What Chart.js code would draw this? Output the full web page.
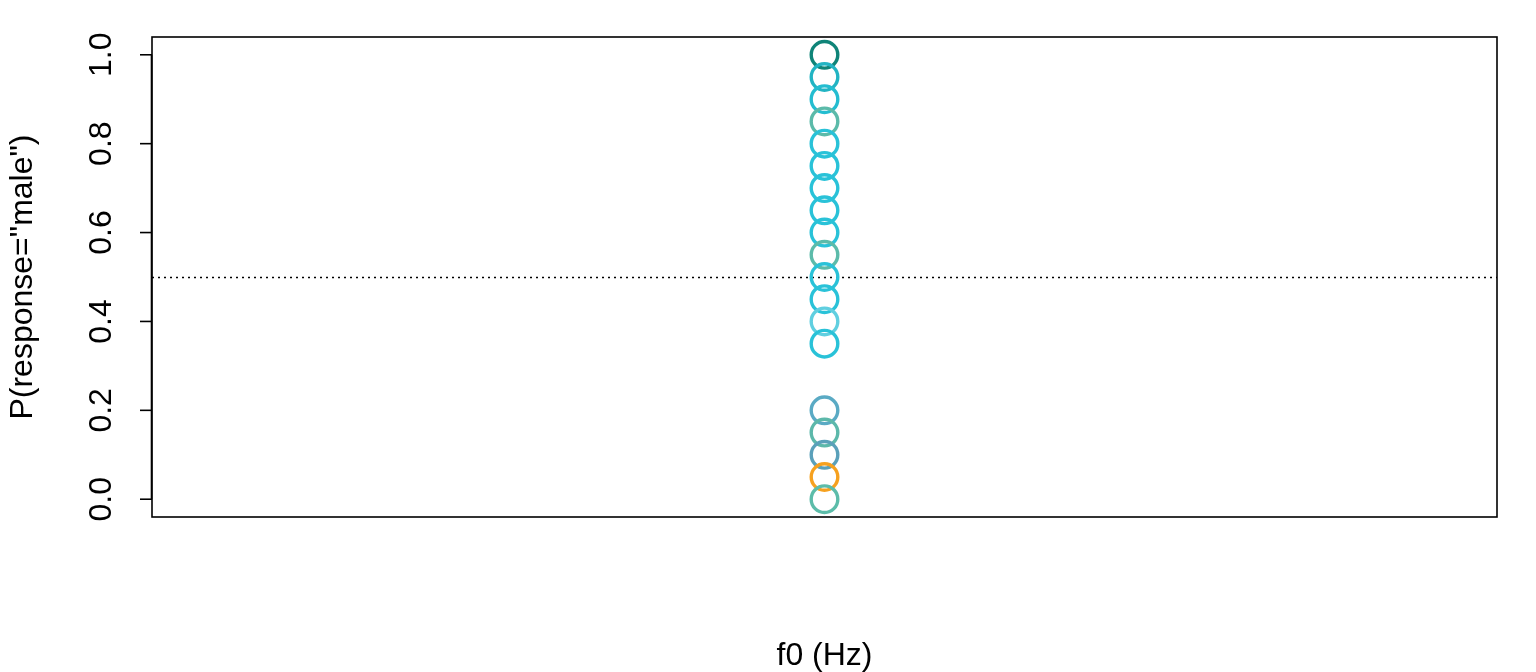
<!DOCTYPE html>
<html>
<head>
<meta charset="utf-8">
<script src="https://cdn.jsdelivr.net/npm/chart.js@4/dist/chart.umd.min.js"></script>
<style>
html,body{margin:0;padding:0;background:#fff;}
#wrap{width:1536px;height:672px;position:relative;}
</style>
</head>
<body>
<div id="wrap"><canvas id="c" width="1536" height="672"></canvas></div>
<script>
// Data
const categories = ["f0"];
const pValues = [1.0, 0.95, 0.9, 0.85, 0.8, 0.75, 0.7, 0.65, 0.6, 0.55, 0.5, 0.45, 0.4, 0.35, 0.2, 0.15, 0.1, 0.05, 0.0];
const pointColors = ["#0f8478", "#22b4c3", "#24bdd0", "#5bbaa9", "#29c2d8", "#29c2d8", "#29c2d8", "#29c2d8", "#29c2d8", "#5cbbaa", "#29c2d8", "#29c2d8", "#60cfe0", "#29c2d8", "#5aaac4", "#5cb8aa", "#5aa0ba", "#f6a11f", "#5cbca9"];
const yTicks = [0.0, 0.2, 0.4, 0.6, 0.8, 1.0];
const yTickLabels = ["0.0", "0.2", "0.4", "0.6", "0.8", "1.0"];
const refLine = 0.5;
const xTitle = "f0 (Hz)";
const yTitle = 'P(response="male")';

const FONT = '"Liberation Sans", Arial, sans-serif';

const points = pValues.map(v => ({x: 0, y: v}));

const rAxes = {
  id: 'rAxes',
  beforeDatasetsDraw(chart) {
    const {ctx, chartArea: a, scales: {y}} = chart;
    ctx.save();
    const yr = Math.round(y.getPixelForValue(refLine)) + 0.5;
    ctx.strokeStyle = '#000';
    ctx.lineWidth = 1.3;
    ctx.setLineDash([2, 4]);
    ctx.beginPath();
    ctx.moveTo(a.left, yr);
    ctx.lineTo(a.right, yr);
    ctx.stroke();
    ctx.restore();
  },
  afterDraw(chart) {
    const {ctx, chartArea: a, scales: {y}} = chart;
    ctx.save();
    ctx.strokeStyle = '#000';
    ctx.lineWidth = 1.6;
    ctx.setLineDash([]);
    ctx.strokeRect(a.left, a.top, a.right - a.left, a.bottom - a.top);
    ctx.fillStyle = '#000';
    ctx.font = '32px ' + FONT;
    ctx.textAlign = 'center';
    ctx.textBaseline = 'alphabetic';
    yTicks.forEach((t, i) => {
      const py = y.getPixelForValue(t);
      ctx.beginPath();
      ctx.moveTo(a.left, py);
      ctx.lineTo(a.left - 12, py);
      ctx.stroke();
      ctx.save();
      ctx.translate(111, py);
      ctx.rotate(-Math.PI / 2);
      ctx.fillText(yTickLabels[i], 0, 0);
      ctx.restore();
    });
    ctx.beginPath();
    ctx.moveTo(a.left - 0.5, y.getPixelForValue(yTicks[0]));
    ctx.lineTo(a.left - 0.5, y.getPixelForValue(yTicks[yTicks.length - 1]));
    ctx.stroke();
    ctx.fillText(xTitle, (a.left + a.right) / 2, 665);
    ctx.save();
    ctx.translate(32, (a.top + a.bottom) / 2);
    ctx.rotate(-Math.PI / 2);
    ctx.fillText(yTitle, 0, 0);
    ctx.restore();
    ctx.restore();
  }
};

new Chart(document.getElementById('c'), {
  type: 'scatter',
  data: {
    datasets: [{
      label: categories[0],
      data: points,
      pointStyle: 'circle',
      pointRadius: 13.3,
      pointHoverRadius: 13.3,
      borderWidth: 3.4,
      pointBorderWidth: 3.4,
      borderColor: pointColors,
      pointBorderColor: pointColors,
      backgroundColor: 'rgba(0,0,0,0)',
      pointBackgroundColor: 'rgba(0,0,0,0)'
    }]
  },
  options: {
    responsive: false,
    animation: false,
    devicePixelRatio: 1,
    layout: {padding: {left: 152, right: 39, top: 37, bottom: 155}},
    plugins: {legend: {display: false}, tooltip: {enabled: false}},
    scales: {
      x: {type: 'linear', display: false, min: -1, max: 1},
      y: {type: 'linear', display: false, min: -0.04, max: 1.04}
    }
  },
  plugins: [rAxes]
});
</script>
</body>
</html>
